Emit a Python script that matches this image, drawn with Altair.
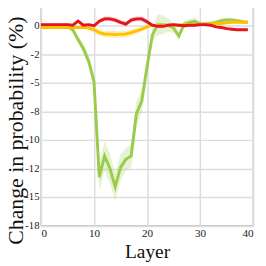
import altair as alt
import pandas as pd

layers = list(range(40))

green = [-0.05, -0.05, -0.05, -0.05, -0.05, -0.1, -0.35, -1.2, -2.0, -3.1,
         -4.9, -13.25, -11.4, -12.5, -14.1, -12.4, -11.7, -11.4, -7.7, -6.6,
         -3.6, -0.8, 0.1, 0.1, 0.05, -0.2, -0.9, 0.15, 0.3, 0.4,
         0.15, 0.15, 0.2, 0.3, 0.45, 0.5, 0.5, 0.45, 0.35, 0.3]
green_ci = [0.1, 0.1, 0.1, 0.1, 0.1, 0.1, 0.2, 0.3, 0.4, 0.5,
            0.7, 1.2, 1.3, 1.3, 1.2, 1.1, 1.0, 1.0, 1.1, 1.0,
            0.8, 0.6, 0.9, 0.8, 0.6, 0.4, 0.3, 0.3, 0.3, 0.3,
            0.2, 0.2, 0.2, 0.2, 0.2, 0.2, 0.2, 0.15, 0.15, 0.15]

yellow = [-0.15, -0.15, -0.15, -0.15, -0.15, -0.15, -0.15, -0.15, -0.15, -0.2,
          -0.35, -0.6, -0.72, -0.75, -0.78, -0.75, -0.72, -0.6, -0.45, -0.3,
          -0.1, 0.05, 0.0, 0.0, 0.05, 0.05, 0.05, 0.1, 0.1, 0.1,
          0.1, 0.15, 0.15, 0.2, 0.2, 0.25, 0.3, 0.3, 0.3, 0.3]
yellow_ci = [0.1] * 10 + [0.25, 0.3, 0.3, 0.3, 0.3, 0.3, 0.3, 0.3, 0.25, 0.2] + [0.1] * 20

red = [0.1, 0.1, 0.1, 0.1, 0.1, 0.1, 0.05, 0.4, 0.05, 0.1,
       0.0, 0.4, 0.6, 0.6, 0.5, 0.3, 0.15, 0.5, 0.6, 0.6,
       0.35, 0.05, -0.05, -0.05, 0.05, 0.1, 0.05, 0.0, 0.05, 0.05,
       0.1, 0.1, 0.05, -0.1, -0.15, -0.25, -0.3, -0.35, -0.35, -0.35]
red_ci = [0.1] * 11 + [0.2] * 10 + [0.1] * 19

series = [("green", green, green_ci, "#9BCB4B"),
          ("yellow", yellow, yellow_ci, "#FFC000"),
          ("red", red, red_ci, "#E3161E")]

y_ticks = [0, -2.5, -5, -7.5, -10, -12.5, -15, -17.5]
y_tick_labels = ["0", "-2", "-5", "-8", "-10", "-12", "-15", "-18"]
x_ticks = [0, 10, 20, 30, 40]

FONT = "Liberation Serif"
W, H = 219, 227.5

label_expr = "[" + ",".join("'%s'" % s for s in y_tick_labels) + "][indexof([" + \
    ",".join(str(v) for v in y_ticks) + "], datum.value)]"

x_enc = alt.X("layer:Q", scale=alt.Scale(domain=[0, 40], nice=False),
              axis=alt.Axis(values=x_ticks, title="Layer", format="d",
                            labelFont=FONT, labelFontSize=11.5, labelPadding=2,
                            titleFont=FONT, titleFontSize=20,
                            titleX=W / 2, titleY=32.5, titleBaseline="alphabetic"))
y_scale = alt.Scale(domain=[-17.5, 1.8], nice=False, zero=False)
y_axis = alt.Axis(values=y_ticks, labelExpr=label_expr,
                  labelFont=FONT, labelFontSize=11, labelPadding=2,
                  title="Change in probability (%)",
                  titleFont=FONT, titleFontSize=22.5,
                  titleX=-19.5, titleY=129, titleAngle=-90,
                  titleBaseline="alphabetic", titleAlign="center")

layers_list = []
for name, vals, ci, col in series:
    df = pd.DataFrame({"layer": layers, "value": vals,
                       "lo": [v - c for v, c in zip(vals, ci)],
                       "hi": [v + c for v, c in zip(vals, ci)]})
    band = alt.Chart(df).mark_area(color=col, opacity=0.25).encode(
        x=x_enc, y=alt.Y("lo:Q", scale=y_scale, axis=y_axis), y2="hi:Q")
    line = alt.Chart(df).mark_line(color=col, strokeWidth=3).encode(
        x=x_enc, y=alt.Y("value:Q", scale=y_scale, axis=y_axis))
    layers_list += [band, line]

chart = alt.layer(*layers_list).properties(
    width=W, height=H,
    autosize=alt.AutoSizeParams(type="none"),
    padding={"left": 34, "top": -7, "right": 5, "bottom": 36},
).configure_view(stroke="#cccccc", strokeWidth=1.5).configure_axis(
    grid=True, gridColor="#dddddd", gridWidth=1.5, domain=False, ticks=False,
    labelColor="#222222", titleFontWeight="normal", titleColor="#111111",
)

chart.save("out.html", embed_options={"renderer": "svg", "actions": False})
